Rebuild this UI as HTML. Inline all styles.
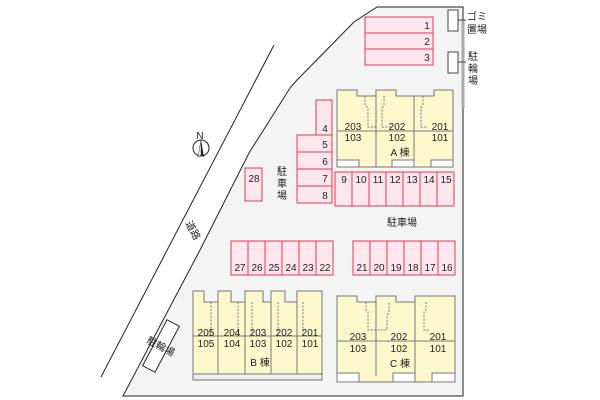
<!DOCTYPE html>
<html><head><meta charset="utf-8"><style>body{margin:0;background:#fff}svg{display:block}text{font-family:"Liberation Sans","Noto Sans CJK JP",sans-serif;font-size:10px;fill:#222}</style></head><body>
<svg width="600" height="400" viewBox="0 0 600 400" xmlns="http://www.w3.org/2000/svg">
<line x1="274" y1="45" x2="101" y2="377" stroke="#222" stroke-width="1"/>
<polygon points="377,7 463,7 463,396 123,396 200,250 249,153 290,88 297,80 354,22" fill="#f4f4f4" stroke="#222" stroke-width="1"/>
<rect x="461.5" y="20" width="3" height="88" fill="#aaa"/>
<text x="190" y="232" transform="rotate(62 190 232)" text-anchor="middle">道路</text>
<g transform="rotate(-62 161 346)"><rect x="135" y="339" width="52" height="14" fill="#fff" stroke="#222"/><text x="161" y="350" text-anchor="middle" transform="rotate(90 161 346)">駐輪場</text></g>
<circle cx="201" cy="148" r="8" fill="#fff" stroke="#222"/><polygon points="201,140 204,157 201,155" fill="#222"/><polygon points="201,140 198,157 201,155" fill="#fff" stroke="#222" stroke-width=".5"/><text x="200" y="139" font-size="7" text-anchor="middle">N</text>
<g fill="#fde6ee" stroke="#e8384f" stroke-width="1">
<rect x="365" y="17" width="68" height="16"/><rect x="365" y="33" width="68" height="16"/><rect x="365" y="49" width="68" height="16"/>
<rect x="316" y="100" width="16" height="35"/>
<rect x="297" y="135" width="35" height="17"/><rect x="297" y="152" width="35" height="17"/><rect x="297" y="169" width="35" height="17"/><rect x="297" y="186" width="35" height="17"/>
<rect x="245" y="168" width="17" height="33"/>
<rect x="335" y="172" width="17" height="34"/><rect x="352" y="172" width="17" height="34"/><rect x="369" y="172" width="17" height="34"/><rect x="386" y="172" width="17" height="34"/><rect x="403" y="172" width="17" height="34"/><rect x="420" y="172" width="17" height="34"/><rect x="437" y="172" width="17" height="34"/>
<rect x="231" y="241" width="17" height="34"/><rect x="248" y="241" width="17" height="34"/><rect x="265" y="241" width="17" height="34"/><rect x="282" y="241" width="17" height="34"/><rect x="299" y="241" width="17" height="34"/><rect x="316" y="241" width="17" height="34"/>
<rect x="353" y="241" width="17" height="34"/><rect x="370" y="241" width="17" height="34"/><rect x="387" y="241" width="17" height="34"/><rect x="404" y="241" width="17" height="34"/><rect x="421" y="241" width="17" height="34"/><rect x="438" y="241" width="17" height="34"/>
</g>
<g text-anchor="middle">
<text x="427" y="29">1</text><text x="427" y="45">2</text><text x="427" y="61">3</text>
<text x="325" y="132">4</text><text x="325" y="148">5</text><text x="325" y="165">6</text><text x="325" y="182">7</text><text x="325" y="199">8</text>
<text x="254" y="182">28</text>
<text x="344" y="183">9</text><text x="361" y="183">10</text><text x="378" y="183">11</text><text x="395" y="183">12</text><text x="412" y="183">13</text><text x="429" y="183">14</text><text x="446" y="183">15</text>
<text x="240" y="271">27</text><text x="257" y="271">26</text><text x="274" y="271">25</text><text x="291" y="271">24</text><text x="308" y="271">23</text><text x="325" y="271">22</text>
<text x="362" y="271">21</text><text x="379" y="271">20</text><text x="396" y="271">19</text><text x="413" y="271">18</text><text x="430" y="271">17</text><text x="447" y="271">16</text>
<text x="282" y="175">駐</text><text x="282" y="187">車</text><text x="282" y="199">場</text>
<text x="402" y="226">駐車場</text>
<text x="477" y="20">ゴミ</text><text x="477" y="33">置場</text>
<text x="473" y="60">駐</text><text x="473" y="72">輪</text><text x="473" y="84">場</text>
</g>
<rect x="448" y="10" width="10" height="21" fill="#fff" stroke="#444"/><line x1="458" y1="20" x2="466" y2="20" stroke="#444"/>
<rect x="448" y="52" width="10" height="21" fill="#fff" stroke="#444"/><line x1="458" y1="62" x2="466" y2="62" stroke="#444"/>
<!-- A -->
<g stroke="#777" stroke-width="1">
<path d="M337,90H357V96H376V90H396V96H434V90H453V167H337Z" fill="#fdf8cc"/>
<line x1="376" y1="96" x2="376" y2="167"/><line x1="414" y1="96" x2="414" y2="167"/><line x1="337" y1="131" x2="453" y2="131"/>
<rect x="337" y="160" width="22" height="7" fill="#fff"/><rect x="392" y="160" width="22" height="7" fill="#fff"/><rect x="431" y="160" width="22" height="7" fill="#fff"/>
<g fill="none" stroke-dasharray="2,1.5"><path d="M365,96V105L368,108V127H376"/><path d="M384,96V105L382,108V127H392"/><path d="M423,96V105L421,108V127H428"/></g>
</g>
<g text-anchor="middle"><text x="353" y="130">203</text><text x="353" y="141">103</text><text x="397" y="130">202</text><text x="397" y="141">102</text><text x="440" y="130">201</text><text x="440" y="141">101</text><text x="400" y="156">A 棟</text></g>
<!-- B -->
<g stroke="#777" stroke-width="1">
<path d="M193,291H204V302H218V291H231V302H245V291H263V302H271V291H285V302H297V291H322V380H193Z" fill="#fdf8cc"/>
<line x1="218" y1="302" x2="218" y2="380"/><line x1="245" y1="302" x2="245" y2="380"/><line x1="271" y1="302" x2="271" y2="380"/><line x1="297" y1="302" x2="297" y2="380"/>
<line x1="193" y1="336" x2="322" y2="336"/><rect x="193" y="374" width="129" height="6" fill="#eee"/>
<g fill="none" stroke-dasharray="2,1.5"><path d="M211,302V336"/><path d="M238,302V336"/><path d="M252,302V336"/><path d="M278,302V336"/><path d="M303,302V336"/></g>
</g>
<g text-anchor="middle"><text x="206" y="336">205</text><text x="206" y="347">105</text><text x="232" y="336">204</text><text x="232" y="347">104</text><text x="258" y="336">203</text><text x="258" y="347">103</text><text x="284" y="336">202</text><text x="284" y="347">102</text><text x="310" y="336">201</text><text x="310" y="347">101</text><text x="260" y="366">B 棟</text></g>
<!-- C -->
<g stroke="#777" stroke-width="1">
<path d="M337,296H357V302H376V296H396V302H415V296H455V382H337Z" fill="#fdf8cc"/>
<line x1="376" y1="302" x2="376" y2="376"/><line x1="415" y1="302" x2="415" y2="376"/><line x1="337" y1="341" x2="455" y2="341"/>
<rect x="337" y="373" width="22" height="9" fill="#fff"/><rect x="393" y="373" width="22" height="9" fill="#fff"/><rect x="432" y="373" width="23" height="9" fill="#fff"/>
<g fill="none" stroke-dasharray="2,1.5"><path d="M366,302V310L368,312V330H387V315L389,312V302"/><path d="M426,302V310L424,312V330H430"/></g>
</g>
<g text-anchor="middle"><text x="358" y="340">203</text><text x="358" y="352">103</text><text x="399" y="340">202</text><text x="399" y="352">102</text><text x="438" y="340">201</text><text x="438" y="352">101</text><text x="400" y="367">C 棟</text></g>
</svg>
</body></html>
